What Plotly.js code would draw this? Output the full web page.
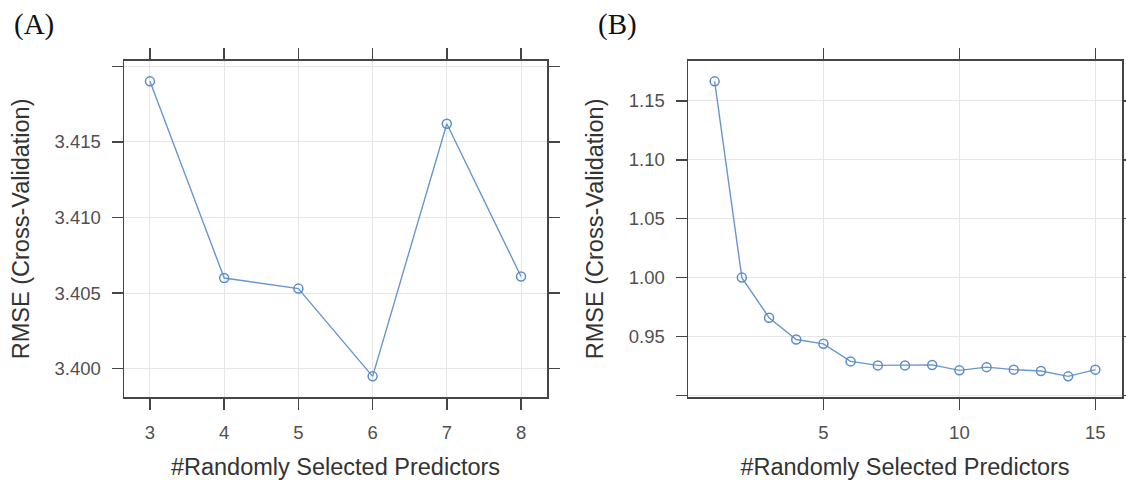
<!DOCTYPE html>
<html>
<head>
<meta charset="utf-8">
<script src="https://cdn.plot.ly/plotly-3.0.1.min.js"></script>
<style>html,body{margin:0;padding:0;background:#fff;}#chart{width:1126px;height:480px;}</style>
</head>
<body>
<div id="chart"></div>
<script>
// ---- data ----
const predictorsA = [3, 4, 5, 6, 7, 8];
const rmseA = [3.4190, 3.4060, 3.4053, 3.3995, 3.4162, 3.4061];
const predictorsB = [1, 2, 3, 4, 5, 6, 7, 8, 9, 10, 11, 12, 13, 14, 15];
const rmseB = [1.1666, 1.0000, 0.9660, 0.9475, 0.9438, 0.9289, 0.9255, 0.9255, 0.9259, 0.9213, 0.9240, 0.9219, 0.9207, 0.9162, 0.9219];
const xTickValsA = [3, 4, 5, 6, 7, 8];
const yTickValsA = [3.400, 3.405, 3.410, 3.415, 3.420];
const yTickTextA = ['3.400', '3.405', '3.410', '3.415', ''];
const xTickValsB = [5, 10, 15];
const yTickValsB = [0.90, 0.95, 1.00, 1.05, 1.10, 1.15];
const yTickTextB = ['', '0.95', '1.00', '1.05', '1.10', '1.15'];
const panelLabels = ['(A)', '(B)'];
const xTitle = '#Randomly Selected Predictors';
const yTitle = 'RMSE (Cross-Validation)';

// lattice-style 7% padding
function padRange(arr) {
  const mn = Math.min(...arr), mx = Math.max(...arr);
  const p = 0.07 * (mx - mn);
  return [mn - p, mx + p];
}

const W = 1126, H = 480;
const lineCol = '#6a96cf';
const axCol = '#454545';
const tickFont = {family: 'Liberation Sans, Arial, sans-serif', size: 18.5, color: '#505050'};
const titleFont = {family: 'Liberation Sans, Arial, sans-serif', size: 23.5, color: '#333333'};

function axisBase() {
  return {
    showline: true, linecolor: axCol, linewidth: 1.5, mirror: 'allticks',
    ticks: 'outside', ticklen: 11, tickwidth: 1.4, tickcolor: axCol,
    showgrid: true, gridcolor: '#e6e6e6', gridwidth: 1, zeroline: false,
    tickfont: tickFont, ticklabelstandoff: 7, fixedrange: true
  };
}

const traceStyle = {
  mode: 'lines+markers',
  line: {color: lineCol, width: 1.4},
  marker: {symbol: 'circle-open', size: 9, color: '#5b8ccc', line: {width: 1.5}},
  hoverinfo: 'x+y', showlegend: false
};

const data = [
  Object.assign({x: predictorsA, y: rmseA, xaxis: 'x', yaxis: 'y'}, traceStyle),
  Object.assign({x: predictorsB, y: rmseB, xaxis: 'x2', yaxis: 'y2'}, traceStyle)
];

const yDom = [1 - 397 / H, 1 - 60.7 / H];

function padX(arr) {
  const mn = arr[0], mx = arr[arr.length - 1];
  const p = 0.07 * (mx - mn);
  return [mn - p, mx + p];
}

const layout = {
  width: W, height: H,
  margin: {l: 0, r: 0, t: 0, b: 0},
  paper_bgcolor: '#ffffff', plot_bgcolor: '#ffffff',
  xaxis: Object.assign(axisBase(), {
    domain: [124 / W, 547 / W], anchor: 'y',
    range: padX(predictorsA),
    tickmode: 'array', tickvals: xTickValsA,
    title: {text: xTitle, font: titleFont, standoff: 18}
  }),
  yaxis: Object.assign(axisBase(), {
    domain: yDom, anchor: 'x',
    range: padRange(rmseA),
    tickmode: 'array', tickvals: yTickValsA, ticktext: yTickTextA,
    title: {text: yTitle, font: titleFont, standoff: 18}
  }),
  xaxis2: Object.assign(axisBase(), {
    domain: [688 / W, 1122 / W], anchor: 'y2',
    range: padX(predictorsB),
    tickmode: 'array', tickvals: xTickValsB,
    title: {text: xTitle, font: titleFont, standoff: 18}
  }),
  yaxis2: Object.assign(axisBase(), {
    domain: yDom, anchor: 'x2',
    range: padRange(rmseB),
    tickmode: 'array', tickvals: yTickValsB, ticktext: yTickTextB,
    title: {text: yTitle, font: titleFont, standoff: 18}
  }),
  annotations: [
    {text: panelLabels[0], xref: 'paper', yref: 'paper', x: 12 / W, y: 1 - 24 / H,
     xanchor: 'left', yanchor: 'middle', showarrow: false,
     font: {family: 'Liberation Serif, Times New Roman, serif', size: 29, color: '#111111'}},
    {text: panelLabels[1], xref: 'paper', yref: 'paper', x: 596 / W, y: 1 - 24 / H,
     xanchor: 'left', yanchor: 'middle', showarrow: false,
     font: {family: 'Liberation Serif, Times New Roman, serif', size: 29, color: '#111111'}}
  ]
};

Plotly.newPlot('chart', data, layout, {displayModeBar: false, staticPlot: true});
</script>
</body>
</html>
